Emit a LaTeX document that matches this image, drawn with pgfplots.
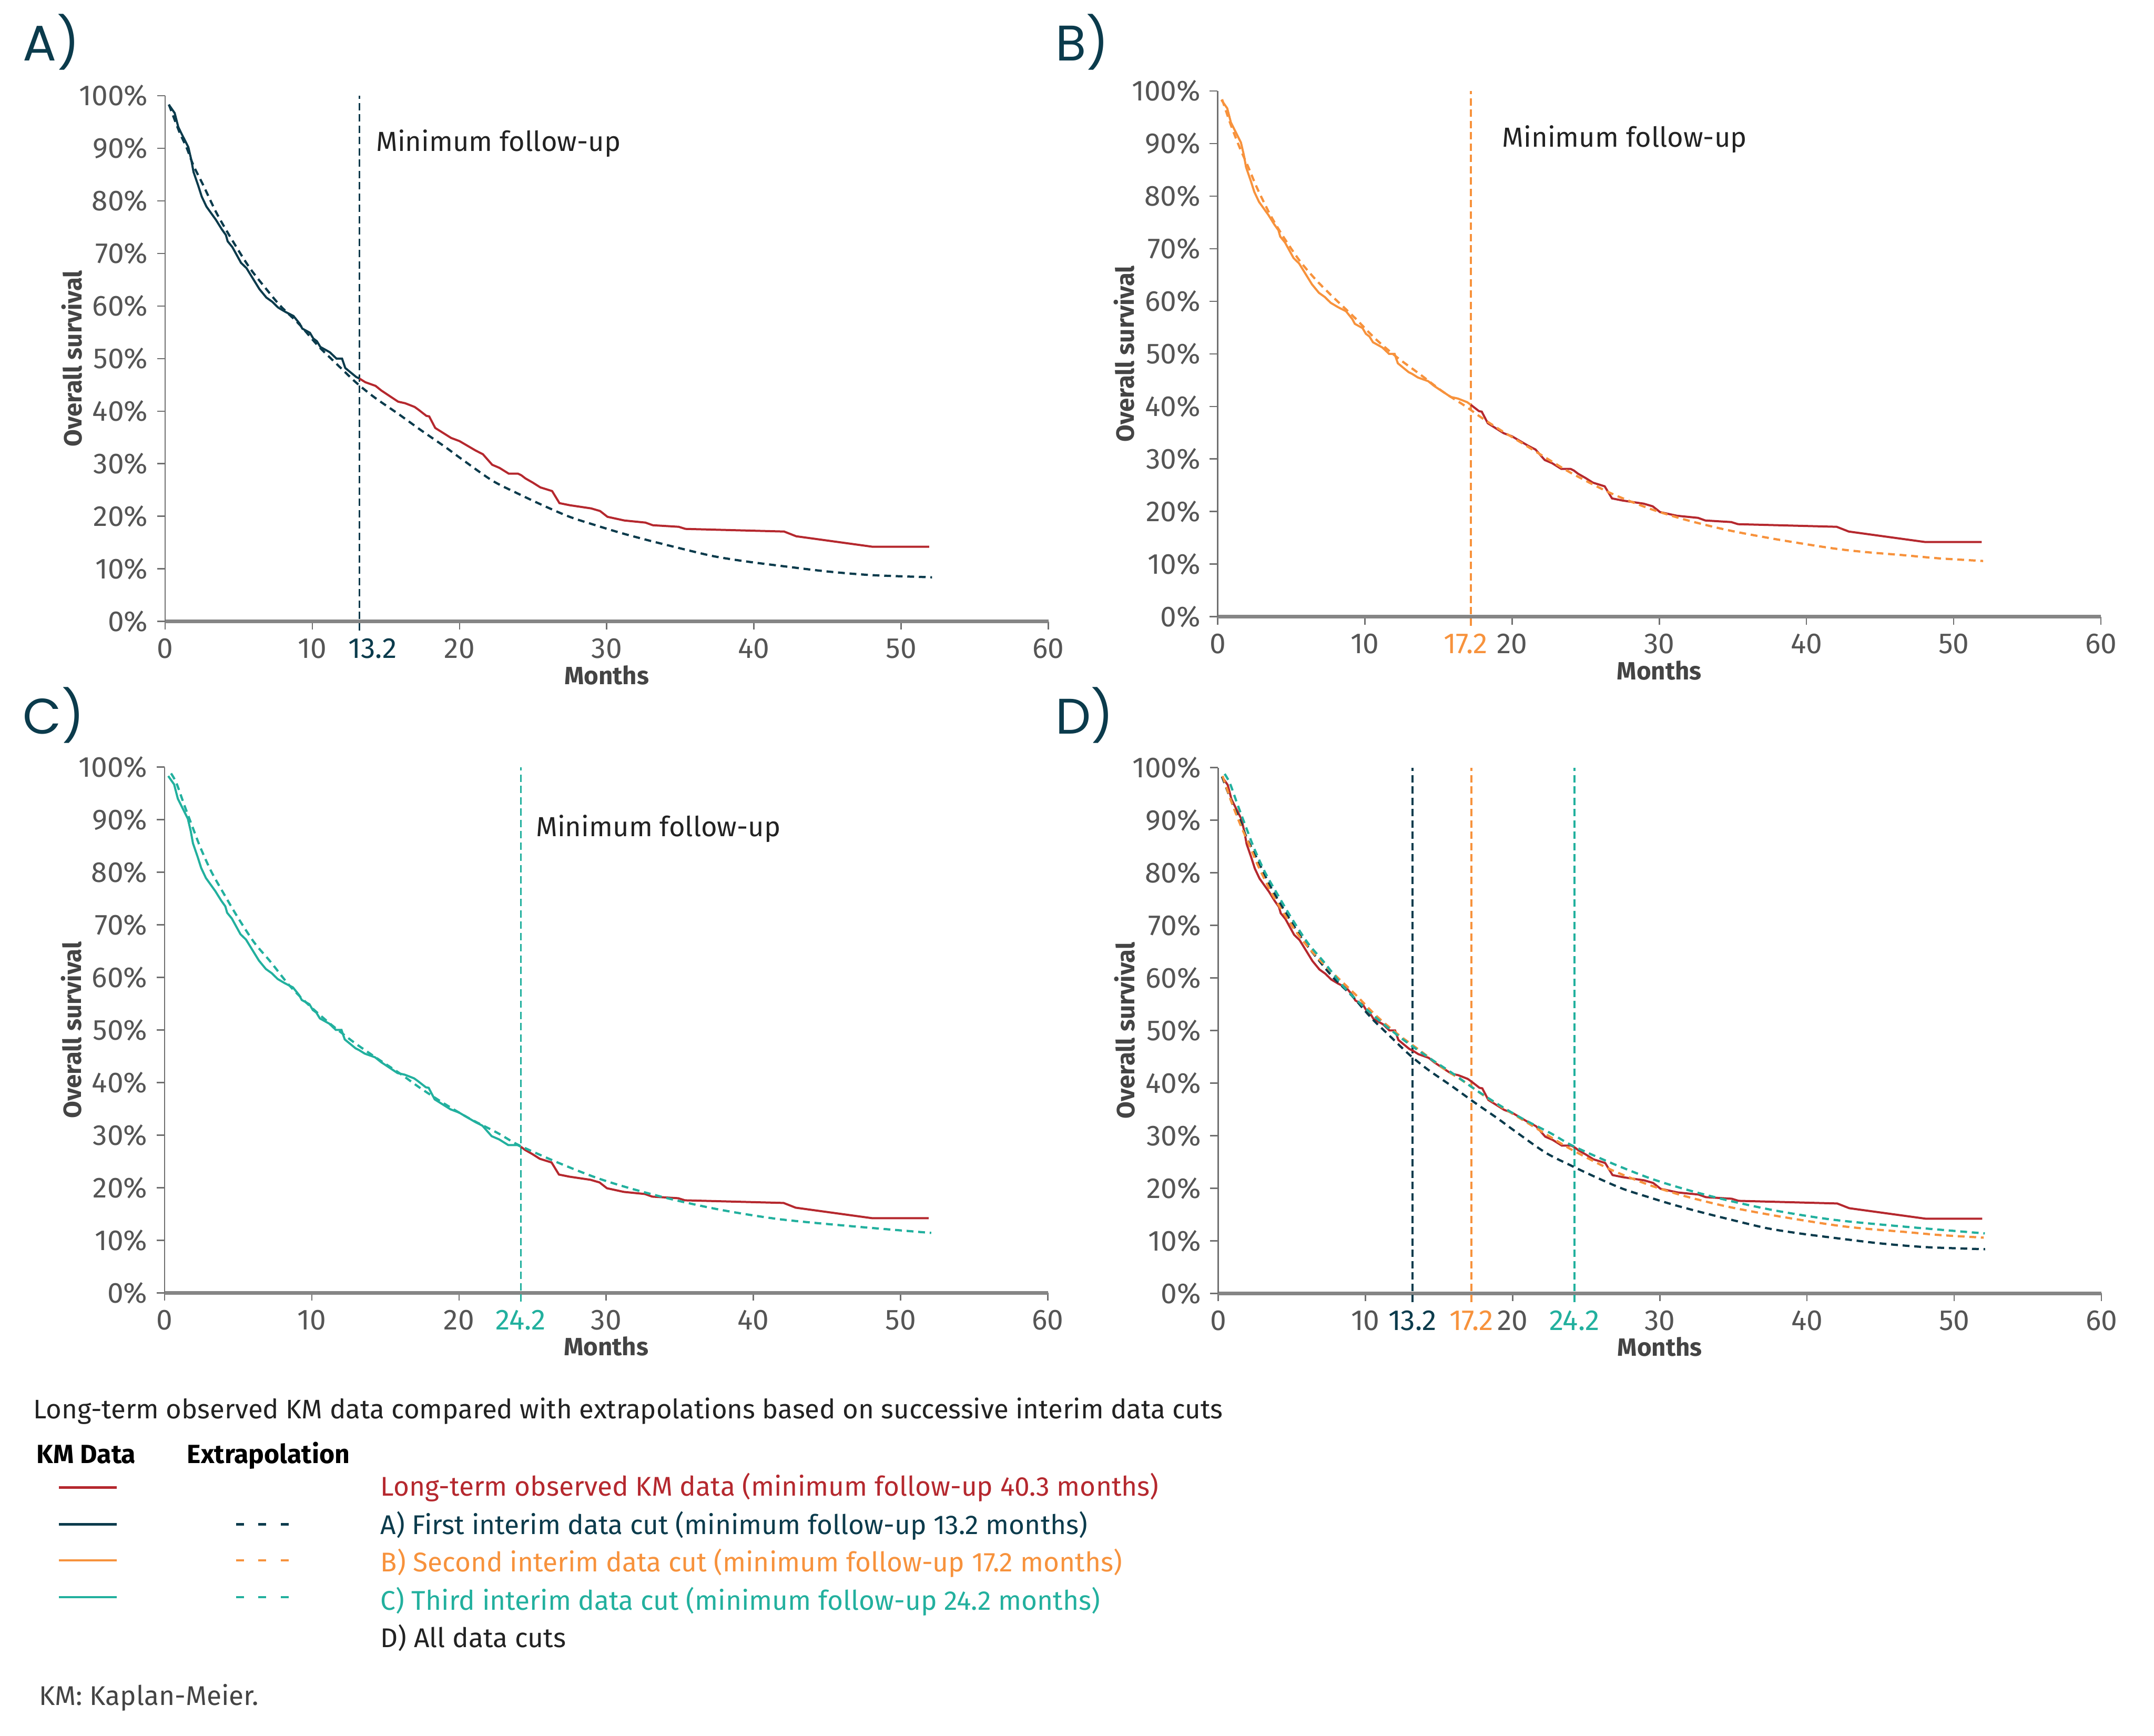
\documentclass[border=0pt]{standalone}
\usepackage{fontspec}
\setmainfont{Fira Sans}
\newfontfamily\panelfont{Poppins}
\usepackage{pgfplots}
\pgfplotsset{compat=1.18}
\usepackage{pgfplotstable}

\definecolor{kmred}{HTML}{B5282E}
\definecolor{navy}{HTML}{0B3B4C}
\definecolor{orng}{HTML}{F7923C}
\definecolor{tealc}{HTML}{22B09E}
\definecolor{tickgray}{HTML}{555555}
\definecolor{labgray}{HTML}{444444}
\definecolor{axisgray}{HTML}{707070}
\definecolor{textdark}{HTML}{222222}

% Kaplan-Meier data (months, % surviving)
\pgfplotstableread{
m s
0.25 98.3
0.65 96.7
0.90 94.0
1.13 92.7
1.58 90.2
1.78 87.8
1.93 85.5
2.25 82.9
2.49 80.8
2.81 78.9
3.45 76.4
3.85 74.6
4.13 73.5
4.25 72.3
4.57 71.2
5.16 68.2
5.53 67.2
6.41 63.2
6.88 61.6
7.28 60.8
7.68 59.7
8.16 58.9
8.72 58.1
9.15 56.6
9.32 55.7
9.84 54.9
10.07 53.8
10.31 53.3
10.55 52.2
11.19 51.2
11.64 50.0
12.02 50.0
12.24 48.2
12.98 46.5
13.2 46.2
13.6 45.5
14.3 44.8
14.7 43.9
15.83 41.8
16.31 41.5
16.95 40.8
17.2 40.3
17.75 39.1
17.94 39.0
18.35 36.8
19.43 34.9
20.0 34.3
21.1 32.5
21.59 31.8
22.22 29.8
22.72 29.2
23.35 28.1
23.98 28.1
24.2 27.8
24.48 27.2
24.98 26.4
25.49 25.5
26.29 24.8
26.79 22.5
27.5 22.1
28.94 21.5
29.55 21.0
30.05 19.9
31.2 19.2
32.63 18.8
33.13 18.3
34.89 18.0
35.35 17.6
42.05 17.1
42.87 16.2
48.07 14.2
51.9 14.2
}\kmdata

% Extrapolation from first interim cut
\pgfplotstableread{
m s
0.26 98.3
0.97 93.1
1.45 90.2
1.93 86.7
2.57 83.1
3.53 77.5
4.65 72.1
5.76 67.2
6.88 63.2
7.84 60.0
9.12 56.5
10.4 52.4
11.68 48.9
12.95 45.5
14.23 42.6
15.83 39.5
17.42 36.3
19.02 33.2
20.14 30.9
22.22 26.8
23.98 24.3
25.73 22.0
27.48 19.9
29.24 18.3
31.0 16.8
33.0 15.3
35.0 13.9
37.27 12.4
39.5 11.4
42.3 10.4
45.0 9.5
48.07 8.8
52.1 8.4
}\extA

% Extrapolation from second interim cut
\pgfplotstableread{
m s
0.3 98.4
0.9 93.5
1.5 89.2
2.1 85.4
2.7 81.4
3.6 76.3
4.5 72.1
5.6 67.6
6.7 64.0
7.8 60.9
9.3 56.9
10.7 52.9
12.2 49.3
13.7 46.2
15.3 42.8
16.8 40.1
17.8 38.1
19.1 35.7
20.8 32.8
22.6 29.7
24.1 27.2
26.7 23.5
29.3 20.6
31.7 18.5
34.6 16.5
38.0 14.7
41.8 13.0
44.0 12.3
46.6 11.7
49.0 11.1
52.0 10.6
}\extB

% Extrapolation from third interim cut
\pgfplotstableread{
m s
0.44 98.8
0.8 97.0
1.35 92.7
1.9 88.6
2.45 84.6
3.18 80.1
4.09 75.6
5.0 71.3
6.1 66.6
7.19 63.0
8.47 58.5
9.74 54.9
11.2 51.3
12.84 47.7
14.49 44.5
15.95 41.8
17.4 38.9
19.05 35.9
20.69 33.2
22.63 30.4
24.06 28.1
26.7 24.8
29.33 21.9
31.73 19.8
34.6 17.7
37.95 15.7
41.8 14.0
46.57 12.7
52.08 11.4
}\extC

\pgfplotsset{
  panel/.style={
    width=336pt, height=200pt, scale only axis,
    xmin=0, xmax=60, ymin=0, ymax=100,
    axis lines*=left,
    xtick={0,10,20,30,40,50,60},
    xticklabels={0,10,20,30,40,50,60},
    ytick={0,10,20,30,40,50,60,70,80,90,100},
    yticklabels={0\%,10\%,20\%,30\%,40\%,50\%,60\%,70\%,80\%,90\%,100\%},
    tick align=outside,
    major tick length=3pt,
    tick style={color=axisgray, line width=0.5pt},
    x axis line style={line width=1.3pt, color=axisgray!85},
    y axis line style={line width=0.5pt, color=axisgray},
    tick label style={font=\fontsize{11}{13}\selectfont, text=tickgray},
    xlabel={Months}, ylabel={Overall survival},
    label style={font=\bfseries\fontsize{9.5}{11}\selectfont, text=labgray, inner sep=0pt},
    xlabel style={at={(axis description cs:0.5,0)}, anchor=north, yshift=-16.5pt},
    ylabel style={at={(axis description cs:-0.0935,0.5)}, anchor=south},
    clip=false,
    extra x tick style={tick style={draw=none}},
  },
  km/.style={line width=0.8pt},
  ext/.style={line width=0.85pt, dash pattern=on 2.6pt off 1.8pt, smooth},
  cut/.style={line width=0.7pt, dash pattern=on 2.8pt off 1.5pt},
}

\begin{document}
\begin{tikzpicture}[x=1pt,y=1pt]
\useasboundingbox (0pt,0pt) rectangle (819.4pt,660.2pt);

% ---------- Panel A ----------
\begin{axis}[panel, at={(62.8pt,423.8pt)}, anchor=south west,
  extra x ticks={13.2}, extra x tick labels={\textcolor{navy}{13.2}},
  extra x tick style={tick style={draw=none}, xticklabel style={xshift=5pt}}]
\addplot[cut, navy] coordinates {(13.2,-1.7) (13.2,100)};
\addplot[km, kmred, restrict x to domain=13.2:60] table[x=m,y=s]{\kmdata};
\addplot[km, navy, restrict x to domain=0:13.2] table[x=m,y=s]{\kmdata};
\addplot[ext, navy] table[x=m,y=s]{\extA};
\node[anchor=west, inner sep=0pt, font=\fontsize{10.5}{12.5}\selectfont, text=textdark] at (axis cs:14.3,90.9) {Minimum follow-up};
\end{axis}

% ---------- Panel B ----------
\begin{axis}[panel, at={(463.2pt,425.6pt)}, anchor=south west,
  extra x ticks={17.2}, extra x tick labels={\textcolor{orng}{17.2}},
  extra x tick style={tick style={draw=none}, xticklabel style={xshift=-2pt}}]
\addplot[cut, orng] coordinates {(17.2,-1.7) (17.2,100)};
\addplot[km, kmred, restrict x to domain=17.2:60] table[x=m,y=s]{\kmdata};
\addplot[km, orng, restrict x to domain=0:17.2] table[x=m,y=s]{\kmdata};
\addplot[ext, orng] table[x=m,y=s]{\extB};
\node[anchor=west, inner sep=0pt, font=\fontsize{10.5}{12.5}\selectfont, text=textdark] at (axis cs:19.3,90.8) {Minimum follow-up};
\end{axis}

% ---------- Panel C ----------
\begin{axis}[panel, at={(62.6pt,168.4pt)}, anchor=south west,
  extra x ticks={24.2}, extra x tick labels={\textcolor{tealc}{24.2}}]
\addplot[cut, tealc] coordinates {(24.2,-1.7) (24.2,100)};
\addplot[km, kmred, restrict x to domain=24.2:60] table[x=m,y=s]{\kmdata};
\addplot[km, tealc, restrict x to domain=0:24.2] table[x=m,y=s]{\kmdata};
\addplot[ext, tealc] table[x=m,y=s]{\extC};
\node[anchor=west, inner sep=0pt, font=\fontsize{10.5}{12.5}\selectfont, text=textdark] at (axis cs:25.2,88.3) {Minimum follow-up};
\end{axis}

% ---------- Panel D ----------
\begin{axis}[panel, at={(463.4pt,168.2pt)}, anchor=south west,
  extra x ticks={13.2,17.2,24.2},
  extra x tick labels={\textcolor{navy}{13.2},\textcolor{orng}{17.2},\textcolor{tealc}{24.2}}]
\addplot[cut, navy] coordinates {(13.2,-1.7) (13.2,100)};
\addplot[cut, orng] coordinates {(17.2,-1.7) (17.2,100)};
\addplot[cut, tealc] coordinates {(24.2,-1.7) (24.2,100)};
\addplot[km, kmred] table[x=m,y=s]{\kmdata};
\addplot[ext, navy] table[x=m,y=s]{\extA};
\addplot[ext, orng] table[x=m,y=s]{\extB};
\addplot[ext, tealc] table[x=m,y=s]{\extC};
\end{axis}

% ---------- Panel letters ----------
\node[anchor=base west, inner sep=0pt, font=\panelfont\fontsize{19}{22}\selectfont, text=navy] at (8.6pt,637pt) {A)};
\node[anchor=base west, inner sep=0pt, font=\panelfont\fontsize{19}{22}\selectfont, text=navy] at (401.4pt,637pt) {B)};
\node[anchor=base west, inner sep=0pt, font=\panelfont\fontsize{19}{22}\selectfont, text=navy] at (8.6pt,381pt) {C)};
\node[anchor=base west, inner sep=0pt, font=\panelfont\fontsize{19}{22}\selectfont, text=navy] at (401.4pt,381pt) {D)};

% ---------- Legend ----------
\begin{scope}[every node/.style={anchor=base west, inner sep=0pt, font=\fontsize{10.3}{12.5}\selectfont}]
\node[text=textdark, font=\fontsize{10.2}{12.5}\selectfont] at (12.5pt,120.6pt) {Long-term observed KM data compared with extrapolations based on successive interim data cuts};
\node[text=black, font=\bfseries\fontsize{10}{12}\selectfont] at (13.8pt,103.6pt) {KM Data};
\node[text=black, font=\bfseries\fontsize{10}{12}\selectfont] at (71pt,103.6pt) {Extrapolation};
\node[text=kmred] at (144.6pt,91.1pt) {Long-term observed KM data (minimum follow-up 40.3 months)};
\node[text=navy] at (144.6pt,76.6pt) {A) First interim data cut (minimum follow-up 13.2 months)};
\node[text=orng] at (144.6pt,62.3pt) {B) Second interim data cut (minimum follow-up 17.2 months)};
\node[text=tealc] at (144.6pt,47.8pt) {C) Third interim data cut (minimum follow-up 24.2 months)};
\node[text=textdark] at (144.6pt,33.5pt) {D) All data cuts};
\node[text=labgray] at (14.7pt,11.6pt) {KM: Kaplan-Meier.};
\end{scope}
\draw[kmred, line width=0.9pt] (22.4pt,94.4pt) -- (44.4pt,94.4pt);
\draw[navy, line width=0.9pt] (22.4pt,80.4pt) -- (44.4pt,80.4pt);
\draw[orng, line width=0.9pt] (22.4pt,66.6pt) -- (44.4pt,66.6pt);
\draw[tealc, line width=0.9pt] (22.4pt,52.6pt) -- (44.4pt,52.6pt);
\draw[navy, line width=0.9pt, dash pattern=on 3pt off 5.5pt] (89.8pt,80.4pt) -- (112.5pt,80.4pt);
\draw[orng, line width=0.9pt, dash pattern=on 3pt off 5.5pt] (89.8pt,66.6pt) -- (112.5pt,66.6pt);
\draw[tealc, line width=0.9pt, dash pattern=on 3pt off 5.5pt] (89.8pt,52.6pt) -- (112.5pt,52.6pt);
\end{tikzpicture}
\end{document}
